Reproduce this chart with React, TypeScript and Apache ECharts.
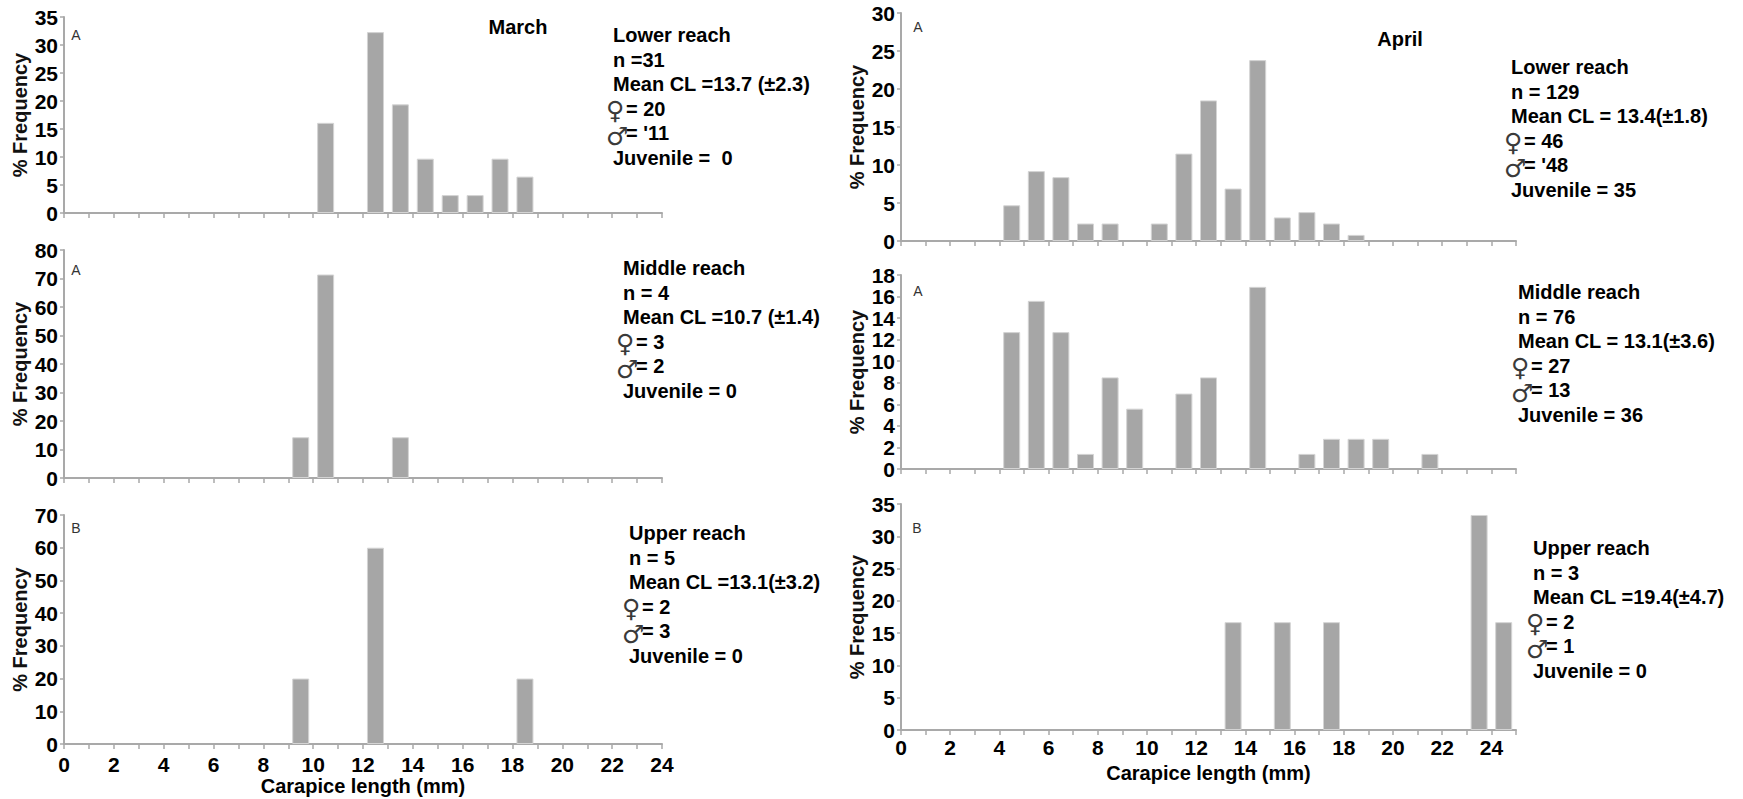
import React, { useEffect, useRef } from "react";
import * as echarts from "echarts";

// ---------- data ----------
const marchLowerBins = [10, 12, 13, 14, 15, 16, 17, 18];
const marchLowerPct = [16.1, 32.3, 19.4, 9.7, 3.2, 3.2, 9.7, 6.5];
const marchMiddleBins = [9, 10, 13];
const marchMiddlePct = [14.3, 71.4, 14.3];
const marchUpperBins = [9, 12, 18];
const marchUpperPct = [20, 60, 20];
const aprilLowerBins = [4, 5, 6, 7, 8, 10, 11, 12, 13, 14, 15, 16, 17, 18];
const aprilLowerPct = [4.7, 9.2, 8.4, 2.3, 2.3, 2.3, 11.5, 18.5, 6.9, 23.8, 3.1, 3.8, 2.3, 0.8];
const aprilMiddleBins = [4, 5, 6, 7, 8, 9, 11, 12, 14, 16, 17, 18, 19, 21];
const aprilMiddlePct = [12.7, 15.6, 12.7, 1.4, 8.5, 5.6, 7.0, 8.5, 16.9, 1.4, 2.8, 2.8, 2.8, 1.4];
const aprilUpperBins = [13, 15, 17, 23, 24];
const aprilUpperPct = [16.7, 16.7, 16.7, 33.3, 16.7];

const yMaxes = [35, 80, 70, 30, 18, 35];
const ySteps = [5, 10, 10, 5, 2, 5];
const xMaxes = [24, 24, 24, 25, 25, 25];
const panelLetters = ["A", "A", "B", "A", "A", "B"];
const monthTitles = ["March", "April"];

const marchLowerText = ["Lower reach", "n =31", "Mean CL =13.7 (\u00b12.3)", "= 20", "= '11", "Juvenile =  0"];
const marchMiddleText = ["Middle reach", "n = 4", "Mean CL =10.7 (\u00b11.4)", "= 3", "= 2", "Juvenile = 0"];
const marchUpperText = ["Upper reach", "n = 5", "Mean CL =13.1(\u00b13.2)", "= 2", "= 3", "Juvenile = 0"];
const aprilLowerText = ["Lower reach", "n = 129", "Mean CL = 13.4(\u00b11.8)", "= 46", "= '48", "Juvenile = 35"];
const aprilMiddleText = ["Middle reach", "n = 76", "Mean CL = 13.1(\u00b13.6)", "= 27", "= 13", "Juvenile = 36"];
const aprilUpperText = ["Upper reach", "n = 3", "Mean CL =19.4(\u00b14.7)", "= 2", "= 1", "Juvenile = 0"];

// ---------- layout ----------
const FONT = "'Liberation Sans', Arial, Helvetica, sans-serif";
const grids = [
  { left: 64, top: 17, width: 598, height: 196 },
  { left: 64, top: 250, width: 598, height: 228 },
  { left: 64, top: 515, width: 598, height: 229 },
  { left: 901, top: 13, width: 615, height: 228 },
  { left: 901, top: 275, width: 615, height: 194 },
  { left: 901, top: 504, width: 615, height: 226 },
];
const letterPos = [
  [76, 35], [76, 270], [76, 528], [918, 27], [918, 291], [917, 528],
];
const blockPos = [
  [613, 35], [623, 268], [629, 533], [1511, 67], [1518, 292], [1533, 548],
];
const titlePos = [[518, 27], [1400, 39]];

const bins = [marchLowerBins, marchMiddleBins, marchUpperBins, aprilLowerBins, aprilMiddleBins, aprilUpperBins];
const pcts = [marchLowerPct, marchMiddlePct, marchUpperPct, aprilLowerPct, aprilMiddlePct, aprilUpperPct];
const texts = [marchLowerText, marchMiddleText, marchUpperText, aprilLowerText, aprilMiddleText, aprilUpperText];

export default function App() {
  const ref = useRef<HTMLDivElement>(null);
  useEffect(() => {
    if (!ref.current) return;
    const chart = echarts.init(ref.current, null, { renderer: "svg" });
    const axisColor = "#a9a9a9";
    const isBottom = (i: number) => i === 2 || i === 5;

    const xAxis = grids.map((_, i) => ({
      type: "value",
      gridIndex: i,
      min: 0,
      max: xMaxes[i],
      interval: 1,
      axisLine: { show: true, lineStyle: { color: axisColor, width: 2 } },
      axisTick: { show: true, length: 5, lineStyle: { color: axisColor, width: 1.5 } },
      splitLine: { show: false },
      axisLabel: {
        show: isBottom(i),
        margin: i === 2 ? 10 : 7,
        color: "#000",
        fontFamily: FONT,
        fontWeight: "bold",
        fontSize: 21,
        formatter: (v: number) => (v % 2 === 0 ? String(v) : ""),
      },
      name: isBottom(i) ? "Carapice length (mm)" : "",
      nameLocation: "middle",
      nameGap: i === 2 ? 32 : 33,
      nameTextStyle: { color: "#000", fontFamily: FONT, fontWeight: "bold", fontSize: 20 },
    }));

    const yAxis = grids.map((_, i) => ({
      type: "value",
      gridIndex: i,
      min: 0,
      max: yMaxes[i],
      interval: ySteps[i],
      axisLine: { show: true, lineStyle: { color: axisColor, width: 2 } },
      axisTick: { show: true, length: 4, lineStyle: { color: axisColor, width: 1.5 } },
      splitLine: { show: false },
      axisLabel: {
        margin: 6,
        color: "#000",
        fontFamily: FONT,
        fontWeight: "bold",
        fontSize: 21,
      },
      name: "% Frequency",
      nameLocation: "middle",
      nameGap: 34,
      nameTextStyle: { color: "#111", fontFamily: FONT, fontWeight: "bold", fontSize: 20 },
    }));

    const series = grids.map((_, i) => ({
      type: "bar",
      xAxisIndex: i,
      yAxisIndex: i,
      barWidth: 17,
      data: bins[i].map((b, k) => [b + 0.5, pcts[i][k]]),
      itemStyle: { color: "#a6a6a6", borderColor: "#d4d4d4", borderWidth: 1 },
      silent: true,
    }));

    const graphic: any[] = [];
    letterPos.forEach((p, i) => {
      graphic.push({
        type: "text",
        x: p[0],
        y: p[1],
        style: {
          text: panelLetters[i],
          fill: "#333",
          font: `14px ${FONT}`,
          align: "center",
          verticalAlign: "middle",
        },
      });
    });
    titlePos.forEach((p, i) => {
      graphic.push({
        type: "text",
        x: p[0],
        y: p[1],
        style: {
          text: monthTitles[i],
          fill: "#000",
          font: `bold 20px ${FONT}`,
          align: "center",
          verticalAlign: "middle",
        },
      });
    });
    const lineH = 24.6;
    blockPos.forEach((p, i) => {
      texts[i].forEach((t, k) => {
        const y = p[1] + k * lineH;
        const isSym = k === 3 || k === 4;
        if (isSym) {
          graphic.push({
            type: "text",
            x: p[0] - 7,
            y: y + (k === 4 ? 3 : 2),
            style: {
              text: k === 3 ? "\u2640" : "\u2642",
              fill: "#3a3a3a",
              font: `25px 'DejaVu Sans', sans-serif`,
              align: "left",
              verticalAlign: "middle",
            },
          });
        }
        graphic.push({
          type: "text",
          x: isSym ? p[0] + 13 : p[0],
          y,
          style: {
            text: t,
            fill: "#000",
            font: `bold 20px ${FONT}`,
            align: "left",
            verticalAlign: "middle",
          },
        });
      });
    });

    chart.setOption({
      animation: false,
      backgroundColor: "#fff",
      grid: grids.map((g) => ({ ...g, containLabel: false })),
      xAxis,
      yAxis,
      series,
      graphic,
    });
    return () => chart.dispose();
  }, []);

  return (
    <div
      ref={ref}
      style={{ position: "fixed", left: 0, top: 0, width: 1743, height: 799, background: "#fff" }}
    />
  );
}
